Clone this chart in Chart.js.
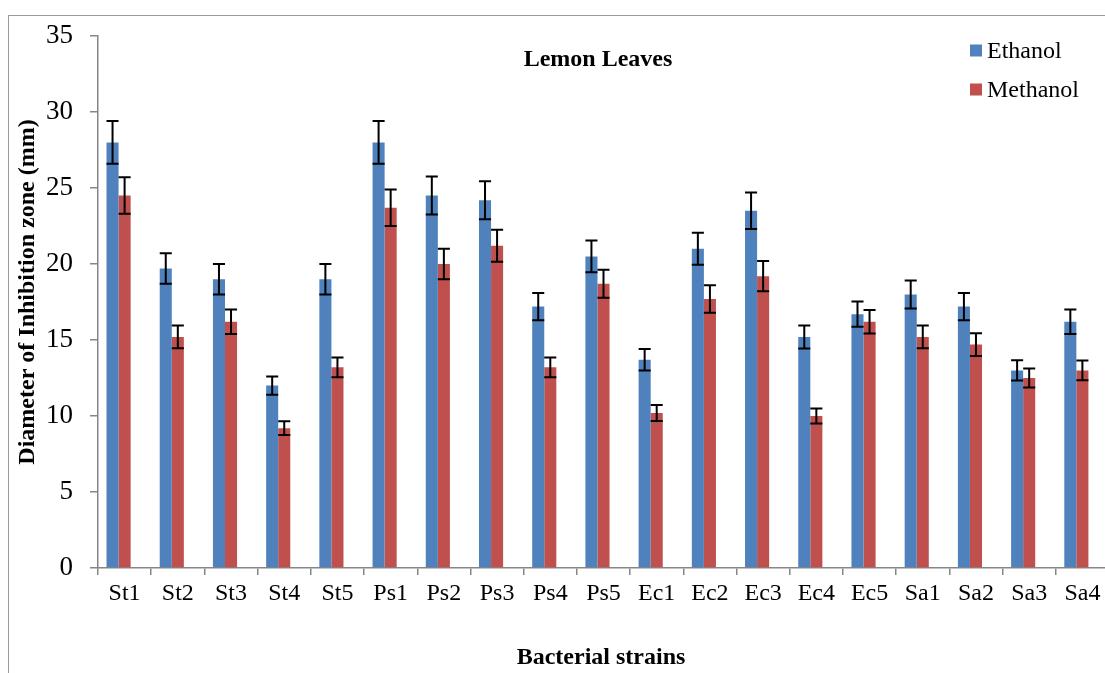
<!DOCTYPE html>
<html>
<head>
<meta charset="utf-8">
<script src="https://cdn.jsdelivr.net/npm/chart.js@4"></script>
<style>
  html, body { margin: 0; padding: 0; background: #fff; overflow: hidden; }
  #frame { position: absolute; left: 8px; top: 15px; width: 1200px; height: 700px; border: 1px solid #9a9a9a; }
  #chart { position: absolute; left: 0; top: 0; }
</style>
</head>
<body>
<div id="frame"></div>
<canvas id="chart" width="1120" height="673"></canvas>
<script>
// Data
const strains = ['St1', 'St2', 'St3', 'St4', 'St5', 'Ps1', 'Ps2', 'Ps3', 'Ps4', 'Ps5',
                 'Ec1', 'Ec2', 'Ec3', 'Ec4', 'Ec5', 'Sa1', 'Sa2', 'Sa3', 'Sa4'];
const ethanol = [28, 19.7, 19, 12, 19, 28, 24.5, 24.2, 17.2, 20.5,
                 13.7, 21, 23.5, 15.2, 16.7, 18, 17.2, 13, 16.2];
const ethanolErr = [1.4, 1.0, 1.0, 0.6, 1.0, 1.4, 1.25, 1.25, 0.9, 1.05,
                    0.7, 1.05, 1.2, 0.76, 0.83, 0.92, 0.9, 0.67, 0.8];
const methanol = [24.5, 15.2, 16.2, 9.2, 13.2, 23.7, 20, 21.2, 13.2, 18.7,
                  10.2, 17.7, 19.2, 10, 16.2, 15.2, 14.7, 12.5, 13];
const methanolErr = [1.2, 0.75, 0.8, 0.45, 0.65, 1.2, 1.0, 1.05, 0.65, 0.92,
                     0.53, 0.9, 1.0, 0.5, 0.77, 0.75, 0.75, 0.63, 0.65];
// third (empty) series in the original workbook, keeps the bars left of centre
const emptySeries = strains.map(() => 0);
const yTicks = [0, 5, 10, 15, 20, 25, 30, 35];

const serif = "'Liberation Serif', 'Times New Roman', serif";

// error bars drawn from the bar elements and the y scale
const errorBars = {
    id: 'errorBars',
    afterDatasetsDraw(chart) {
        const ctx = chart.ctx;
        const yScale = chart.scales.y;
        ctx.save();
        ctx.strokeStyle = '#000';
        ctx.lineWidth = 2;
        chart.data.datasets.forEach((ds, di) => {
            if (!ds.errors) return;
            const meta = chart.getDatasetMeta(di);
            meta.data.forEach((bar, i) => {
                const v = ds.data[i], e = ds.errors[i];
                const top = yScale.getPixelForValue(v + e);
                const bot = yScale.getPixelForValue(v - e);
                const half = bar.width / 2;
                ctx.beginPath();
                ctx.moveTo(bar.x, top); ctx.lineTo(bar.x, bot);
                ctx.moveTo(bar.x - half, top); ctx.lineTo(bar.x + half, top);
                ctx.moveTo(bar.x - half, bot); ctx.lineTo(bar.x + half, bot);
                ctx.stroke();
            });
        });
        ctx.restore();
    }
};

// title, legend and axis titles
const labelsPlugin = {
    id: 'labelsPlugin',
    afterDraw(chart) {
        const ctx = chart.ctx;
        const area = chart.chartArea;
        ctx.save();
        ctx.fillStyle = '#000';
        ctx.textAlign = 'center';
        ctx.textBaseline = 'middle';

        ctx.font = 'bold 24px ' + serif;
        ctx.fillText('Lemon Leaves', 598, 60);

        ctx.fillText('Bacterial strains', 601, 658);

        ctx.save();
        ctx.translate(28, 292);
        ctx.rotate(-Math.PI / 2);
        ctx.fillText('Diameter of Inhibition zone (mm)', 0, 0);
        ctx.restore();

        // legend
        ctx.textAlign = 'left';
        ctx.font = '24px ' + serif;
        let ly = 50.5;
        chart.data.datasets.forEach(ds => {
            if (!ds.label) return;
            ctx.fillStyle = ds.backgroundColor;
            ctx.fillRect(970, ly - 6, 12, 12);
            ctx.fillStyle = '#000';
            ctx.fillText(ds.label, 987, ly + 1);
            ly += 39;
        });
        ctx.restore();
    }
};

const ctxBar = document.getElementById('chart').getContext('2d');
new Chart(ctxBar, {
    type: 'bar',
    data: {
        labels: strains,
        datasets: [
            { label: 'Ethanol', data: ethanol, errors: ethanolErr, backgroundColor: '#4F81BD' },
            { label: 'Methanol', data: methanol, errors: methanolErr, backgroundColor: '#C0504D' },
            { label: '', data: emptySeries, backgroundColor: '#9BBB59' }
        ]
    },
    options: {
        responsive: false,
        animation: false,
        datasets: { bar: { categoryPercentage: 0.68, barPercentage: 1.0, borderWidth: 0 } },
        layout: { padding: { left: 0, top: 36, right: 11, bottom: 0 } },
        plugins: {
            legend: { display: false },
            title: { display: false },
            tooltip: { enabled: false }
        },
        scales: {
            x: {
                afterFit: s => { s.height = 105; },
                grid: { drawOnChartArea: false, tickLength: 7, color: '#868686', lineWidth: 1.5 },
                border: { color: '#868686', width: 1.5 },
                ticks: { color: '#000', font: { family: serif, size: 24 }, padding: 4, maxRotation: 0, autoSkip: false }
            },
            y: {
                min: 0,
                max: 35,
                afterFit: s => { s.width = 98; },
                afterBuildTicks: s => { s.ticks = yTicks.map(v => ({ value: v })); },
                grid: { drawOnChartArea: false, tickLength: 8, color: '#868686', lineWidth: 1.5 },
                border: { color: '#868686', width: 1.5 },
                ticks: { color: '#000', font: { family: serif, size: 27 }, padding: 17 }
            }
        }
    },
    plugins: [errorBars, labelsPlugin]
});
</script>
</body>
</html>
